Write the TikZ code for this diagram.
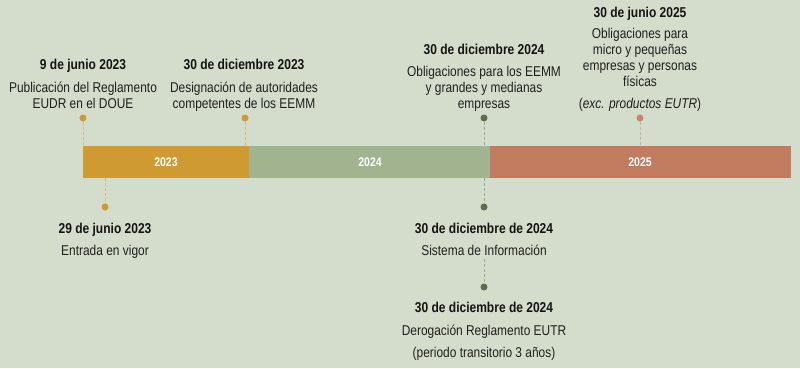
\documentclass[tikz,border=0pt]{standalone}
\usepackage{fontspec}
\setmainfont{Liberation Sans}[FakeStretch=0.84]
\begin{document}
\begin{tikzpicture}[x=1pt,y=-1pt,
  every node/.style={inner sep=0pt,outer sep=0pt},
  ttl/.style={font=\fontsize{14.3}{16}\selectfont\bfseries,text=black!92,anchor=base},
  txt/.style={font=\fontsize{14.2}{16}\selectfont,text=black!88,anchor=base,align=center},
  yr/.style={font=\fontsize{12.5}{14}\selectfont\bfseries,text=white},
  seg/.style={minimum height=32pt,anchor=north west},
  dot/.style={circle,minimum size=7pt},
  lnk/.style={densely dashed,line width=0.5pt}]
\definecolor{bg}{HTML}{D4DDCC}
\definecolor{gold}{HTML}{D09A32}
\definecolor{sage}{HTML}{A1B48F}
\definecolor{terra}{HTML}{C17C60}
\definecolor{dgreen}{HTML}{5E6B4C}
\definecolor{pink}{HTML}{C98470}
\fill[bg] (0,0) rectangle (800,368);
\useasboundingbox (0,0) rectangle (800,368);
% bar
\node[seg,fill=gold,minimum width=166pt] (b23) at (83,146) {};
\node[seg,fill=sage,minimum width=241pt] (b24) at (249,146) {};
\node[seg,fill=terra,minimum width=301pt] (b25) at (490,146) {};
\node[yr] (y23) at (b23.center) {2023};
\node[yr] (y24) at (370,162) {2024};
\node[yr] (y25) at (640,162) {2025};
% dots
\node[dot,fill=gold] (d1) at (83,118) {};
\node[dot,fill=gold] (d2) at (245,118) {};
\node[dot,fill=dgreen] (d3) at (484,118) {};
\node[dot,fill=pink] (d4) at (640,118) {};
\node[dot,fill=gold] (d5) at (105,207) {};
\node[dot,fill=dgreen] (d6) at (484,207) {};
\node[dot,fill=dgreen] (d7) at (484,287) {};
% links
\draw[lnk,draw=gold!70] (d1) -- (d1 |- b23.north);
\draw[lnk,draw=gold!70] (d2) -- (d2 |- b23.north);
\draw[lnk,draw=dgreen!60] (d3) -- (d3 |- b24.north);
\draw[lnk,draw=pink!70] (d4) -- (d4 |- b25.north);
\draw[lnk,draw=gold!70] (d5 |- b23.south) -- (d5);
\draw[lnk,draw=dgreen!60] (d6 |- b24.south) -- (d6);
% texts top
\node[ttl] (t1) at (83,69) {9 de junio 2023};
\node[txt] (x1a) at (83,92) {Publicación del Reglamento};
\node[txt] (x1b) at (83,108) {EUDR en el DOUE};
\node[ttl] (t2) at (244,69) {30 de diciembre 2023};
\node[txt] (x2a) at (244,92) {Designación de autoridades};
\node[txt] (x2b) at (244,108) {competentes de los EEMM};
\node[ttl] (t3) at (484,54) {30 de diciembre 2024};
\node[txt] (x3a) at (484,76) {Obligaciones para los EEMM};
\node[txt] (x3b) at (484,92) {y grandes y medianas};
\node[txt] (x3c) at (484,108) {empresas};
\node[ttl] (t4) at (640,17) {30 de junio 2025};
\node[txt] (x4a) at (640,38) {Obligaciones para};
\node[txt] (x4b) at (640,54) {micro y pequeñas};
\node[txt] (x4c) at (640,70) {empresas y personas};
\node[txt] (x4d) at (640,86) {físicas};
\node[txt] (x4e) at (640,108) {(\textit{exc. productos EUTR})};
% texts bottom
\node[ttl] (t5) at (105,233) {29 de junio 2023};
\node[txt] (x5) at (105,255) {Entrada en vigor};
\node[ttl] (t6) at (484,233) {30 de diciembre de 2024};
\node[txt] (x6) at (484,255) {Sistema de Información};
\draw[lnk,draw=dgreen!60] (x6.south |- 0,259) -- (d7);
\node[ttl] (t7) at (484,312) {30 de diciembre de 2024};
\node[txt] (x7a) at (484,335) {Derogación Reglamento EUTR};
\node[txt] (x7b) at (484,357) {(periodo transitorio 3 años)};
\end{tikzpicture}
\end{document}
